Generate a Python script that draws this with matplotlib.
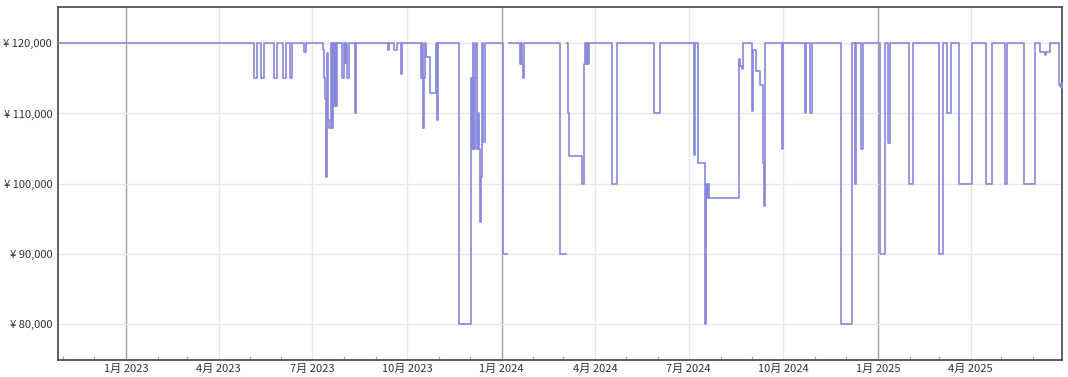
import numpy as np
import pandas as pd
import matplotlib
matplotlib.use("Agg")
import matplotlib.pyplot as plt
import matplotlib.dates as mdates
from matplotlib.ticker import FuncFormatter, FixedLocator

plt.rcParams['font.family'] = ['Noto Sans CJK JP', 'DejaVu Sans']

nan = np.nan
dates = [
    "2022-10-26 12:00", "2023-05-05", "2023-05-08", "2023-05-12", "2023-05-15", "2023-05-25",
    "2023-05-28", "2023-06-03", "2023-06-05", "2023-06-09", "2023-06-11", "2023-06-23",
    "2023-06-25", "2023-07-11", "2023-07-12", "2023-07-13", "2023-07-14", "2023-07-15",
    "2023-07-16", "2023-07-17", "2023-07-19", "2023-07-20", "2023-07-21", "2023-07-22",
    "2023-07-23", "2023-07-24", "2023-07-25", "2023-07-30", "2023-08-01", "2023-08-02",
    "2023-08-03", "2023-08-04", "2023-08-06", "2023-08-12", "2023-08-13", "2023-09-13",
    "2023-09-14", "2023-09-18", "2023-09-21", "2023-09-25", "2023-09-26", "2023-10-15",
    "2023-10-16", "2023-10-17", "2023-10-18", "2023-10-19", "2023-10-20", "2023-10-23",
    "2023-10-29", "2023-10-30", "2023-10-31", "2023-11-21", "2023-12-02", "2023-12-03",
    "2023-12-04", "2023-12-05", "2023-12-06", "2023-12-07", "2023-12-08", "2023-12-09",
    "2023-12-10", "2023-12-11", "2023-12-12", "2023-12-13", "2023-12-14", "2023-12-16",
    "2024-01-02", "2024-01-06", "2024-01-08", "2024-01-19", "2024-01-20", "2024-01-21",
    "2024-01-22", "2024-01-23", "2024-02-27", "2024-03-04", "2024-03-05", "2024-03-06",
    "2024-03-07", "2024-03-19", "2024-03-21", "2024-03-22", "2024-03-23", "2024-03-24",
    "2024-03-25", "2024-03-26", "2024-04-17", "2024-04-22", "2024-05-28", "2024-06-03",
    "2024-07-06", "2024-07-07", "2024-07-10", "2024-07-17", "2024-07-18", "2024-07-19",
    "2024-07-20", "2024-07-21", "2024-08-19", "2024-08-20", "2024-08-22", "2024-08-23",
    "2024-09-01", "2024-09-02", "2024-09-04", "2024-09-08", "2024-09-11", "2024-09-12",
    "2024-09-13", "2024-09-30", "2024-10-01", "2024-10-22", "2024-10-23", "2024-10-27",
    "2024-10-29", "2024-11-26", "2024-12-07", "2024-12-10", "2024-12-11", "2024-12-16",
    "2024-12-17", "2025-01-03", "2025-01-08", "2025-01-11", "2025-01-13", "2025-01-31",
    "2025-02-04", "2025-03-01", "2025-03-05", "2025-03-09", "2025-03-13", "2025-03-21",
    "2025-04-02", "2025-04-16", "2025-04-22", "2025-05-05", "2025-05-06", "2025-05-23",
    "2025-06-03", "2025-06-08", "2025-06-12", "2025-06-13", "2025-06-17", "2025-06-26",
    "2025-06-29 06:00",
]
prices = [
    120000, 115000, 120000, 115000, 120000, 115000,
    120000, 115000, 120000, 115000, 120000, 118700,
    120000, 119000, 115000, 112000, 101000, 118600,
    109000, 108000, 120000, 108000, 120000, 111000,
    120000, 111000, 120000, 115000, 120000, 117200,
    120000, 115000, 120000, 110000, 120000, 119100,
    120000, 119100, 120000, 115600, 120000, 115000,
    120000, 108000, 115000, 120000, 118000, 112900,
    120000, 109000, 120000, 80000, 115000, 105000,
    120000, 105000, 115000, 120000, 105000, 110000,
    105000, 94500, 101000, 120000, 106000, 120000,
    90000, nan, 120000, 117000, 120000, 117000,
    115000, 120000, 90000, nan, 120000, 110000,
    104000, 100000, 117000, 120000, 117000, 120000,
    117000, 120000, 100000, 120000, 110000, 120000,
    104100, 120000, 103000, 80000, 100000, 98000,
    100000, 98000, 117700, 116800, 116300, 120000,
    110300, 119000, 116000, 114000, 103000, 96800,
    120000, 105000, 120000, 110000, 120000, 110000,
    120000, 80000, 120000, 100000, 120000, 105000,
    120000, 90000, 120000, 105800, 120000, 100000,
    120000, 90000, 120000, 110000, 120000, 100000,
    120000, 100000, 120000, 100000, 120000, 100000,
    120000, 118700, 118300, 118700, 120000, 114000,
    114000,
]
y_ticks = [80000, 90000, 100000, 110000, 120000]

x = pd.to_datetime(dates, format='mixed')
y = np.array(prices, dtype=float)

fig = plt.figure(figsize=(10.68, 3.77), dpi=100)
ax = fig.add_axes([57.7 / 1068, 1 - 360 / 377, (1062.3 - 57.7) / 1068, (360 - 7.3) / 377])

ax.plot(x, y, drawstyle='steps-post', color='#8888dd', lw=1.2, zorder=3)
ax.plot(x[-1:], y[-1:], 'o', color='#8888dd', ms=3.5, zorder=4)

ax.set_xlim(pd.Timestamp("2022-10-26 12:00"), pd.Timestamp("2025-06-29 06:00"))
ax.set_ylim(74870, 125130)

ax.yaxis.set_major_locator(FixedLocator(y_ticks))
ax.yaxis.set_major_formatter(FuncFormatter(lambda v, p: f"¥ {int(v):,}"))

ax.xaxis.set_major_locator(mdates.MonthLocator(bymonth=[1, 4, 7, 10]))
ax.xaxis.set_minor_locator(mdates.MonthLocator())
def fmt(v, p):
    d = mdates.num2date(v)
    return f"{d.month}月 {d.year}"
ax.xaxis.set_major_formatter(FuncFormatter(fmt))

ax.tick_params(axis='both', which='major', length=0, labelsize=8, colors='#333333')
ax.tick_params(axis='y', pad=4)
ax.tick_params(axis='x', pad=3)
ax.tick_params(axis='x', which='minor', direction='in', length=3, width=1, color='#aaaaaa')

ax.grid(True, which='major', color='#e8e8e8', lw=1, zorder=0)
fig.canvas.draw()
for gl, t in zip(ax.get_xgridlines(), ax.xaxis.get_majorticklocs()):
    if mdates.num2date(t).month == 1:
        gl.set_color('#a0a0a0')

for s in ax.spines.values():
    s.set_color('#444444')
    s.set_linewidth(1.2)

fig.savefig("out.png", dpi=100)
